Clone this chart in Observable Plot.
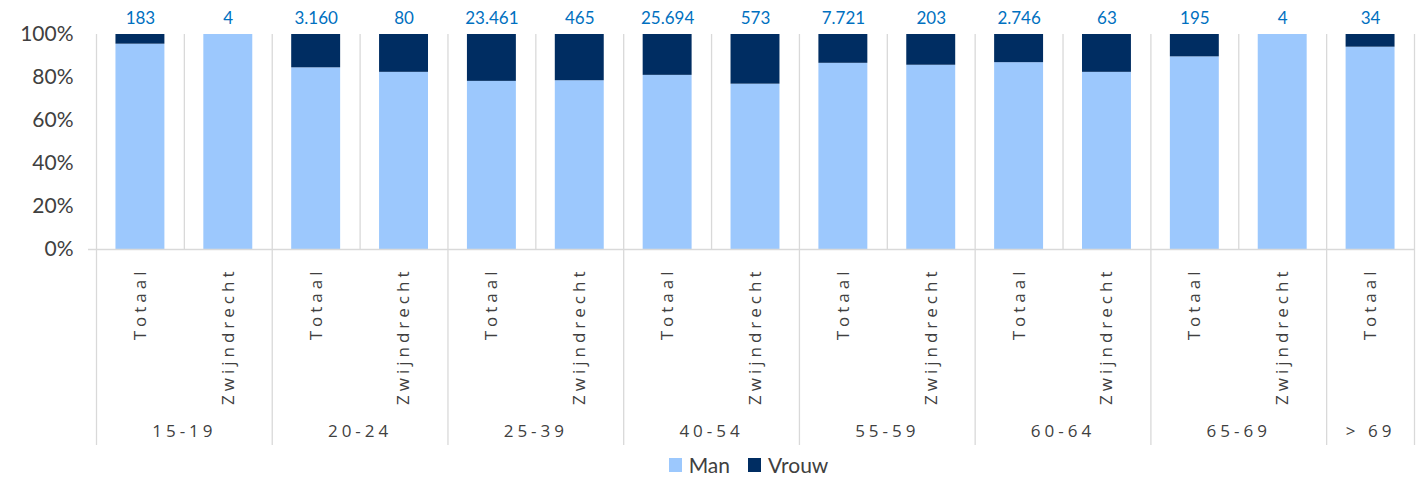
<!DOCTYPE html>
<html>
<head>
<meta charset="utf-8">
<script src="https://cdn.jsdelivr.net/npm/d3@7"></script>
<script src="https://cdn.jsdelivr.net/npm/@observablehq/plot@0.6"></script>
<style>
  html, body { margin: 0; padding: 0; background: #fff; }
  #chart svg { display: block; }
  #legend { width: 1421px; height: 29px; display: flex; justify-content: center; align-items: center;
    padding-left: 76px; box-sizing: border-box; font-family: Lato, "Liberation Sans", sans-serif; font-size: 21px; color: #404040; }
  #legend .item { display: flex; align-items: center; margin: 0 9px; }
  #legend .sw { width: 13px; height: 14px; margin-right: 7px; }
</style>
</head>
<body>
<div id="chart"></div>
<div id="legend"></div>
<script>
// ---- data ----
const groups = ["15-19", "20-24", "25-39", "40-54", "55-59", "60-64", "65-69", "> 69"];
const barGroup = ["15-19", "15-19", "20-24", "20-24", "25-39", "25-39", "40-54", "40-54",
                  "55-59", "55-59", "60-64", "60-64", "65-69", "65-69", "> 69"];
const barArea = ["Totaal", "Zwijndrecht", "Totaal", "Zwijndrecht", "Totaal", "Zwijndrecht",
                 "Totaal", "Zwijndrecht", "Totaal", "Zwijndrecht", "Totaal", "Zwijndrecht",
                 "Totaal", "Zwijndrecht", "Totaal"];
const totals = [183, 4, 3160, 80, 23461, 465, 25694, 573, 7721, 203, 2746, 63, 195, 4, 34];
const manShare = [0.955, 1.0, 0.845, 0.824, 0.782, 0.785, 0.810, 0.769, 0.866, 0.857, 0.869, 0.824, 0.896, 1.0, 0.941];
const series = ["Man", "Vrouw"];
const colors = ["#9CC8FD", "#002D62"];
const yTicks = [0, 0.2, 0.4, 0.6, 0.8, 1];

// ---- derived ----
const keys = barGroup.map((g, i) => g + "|" + barArea[i]);
const rows = [];
keys.forEach((k, i) => {
  rows.push({key: k, sex: "Man", value: manShare[i]});
  rows.push({key: k, sex: "Vrouw", value: 1 - manShare[i]});
});
const bars = keys.map((k, i) => ({key: k, area: barArea[i], group: barGroup[i], total: totals[i]}));
const groupInfo = groups.map(g => {
  const members = keys.filter((k, i) => barGroup[i] === g);
  return {group: g, first: members[0], n: members.length};
});
const nl = d3.formatLocale({decimal: ",", thousands: ".", grouping: [3], currency: ["€", ""]});
const fmt = nl.format(",d");

const W = 1421, H = 450;
const mL = 96, mR = 7, mT = 34, mB = H - 249;
const step = (W - mL - mR) / keys.length;
const pad = 0.443;
const belowLen = 196;
const labelFont = "'Open Sans', sans-serif";

const plot = Plot.plot({
  width: W, height: H,
  marginLeft: mL, marginRight: mR, marginTop: mT, marginBottom: mB,
  style: {fontFamily: "Lato, 'Liberation Sans', sans-serif", background: "#fff"},
  x: {domain: keys, paddingInner: pad, paddingOuter: pad / 2, round: false, axis: null},
  y: {domain: [0, 1], axis: null},
  color: {domain: series, range: colors},
  marks: [
    // vertical gridlines between bars
    Plot.ruleX(keys, {x: d => d, dx: -step / 2, y1: 0, y2: 1, stroke: "#D9D9D9", strokeWidth: 1.3}),
    Plot.ruleX([keys[keys.length - 1]], {x: d => d, dx: step / 2, y1: 0, y2: 1, stroke: "#D9D9D9", strokeWidth: 1.3}),
    // group separators below axis
    Plot.ruleX(groupInfo, {x: "first", dx: -step / 2, y1: 0, y2: 0, insetBottom: -belowLen, stroke: "#D9D9D9", strokeWidth: 1.3}),
    Plot.ruleX([keys[keys.length - 1]], {x: d => d, dx: step / 2, y1: 0, y2: 0, insetBottom: -belowLen, stroke: "#D9D9D9", strokeWidth: 1.3}),
    // stacked bars
    Plot.barY(rows, {x: "key", y: "value", fill: "sex"}),
    // baseline
    Plot.ruleY([0], {insetLeft: -8, stroke: "#D9D9D9", strokeWidth: 1.3}),
    // y axis labels
    Plot.axisY({ticks: yTicks, tickFormat: d3.format(".0%"), tickSize: 0, tickPadding: 23, fontSize: 21, color: "#404040", label: null}),
    // totals above bars
    Plot.text(bars, {x: "key", y: () => 1, text: d => fmt(d.total), dy: -16, lineAnchor: "middle",
      fill: "#0070C0", fontSize: 17}),
    // category labels (rotated)
    Plot.text(bars, {x: "key", y: () => 0, text: "area", rotate: -90, textAnchor: "end", lineAnchor: "middle",
      dy: 18, fill: "#404040", fontSize: 17, fontFamily: labelFont}),
    // group labels
    Plot.text(groupInfo.filter(d => d.n === 2), {x: "first", y: () => 0, text: "group", dx: step / 2, dy: 182,
      lineAnchor: "middle", fill: "#404040", fontSize: 17, fontFamily: labelFont}),
    Plot.text(groupInfo.filter(d => d.n === 1), {x: "first", y: () => 0, text: "group", dy: 182,
      lineAnchor: "middle", fill: "#404040", fontSize: 17, fontFamily: labelFont})
  ]
});
// letter spacing for category/group labels
d3.select(plot).selectAll("g[font-family]").filter(function() {
  return this.getAttribute("font-family").includes("Open Sans");
}).style("letter-spacing", "4px");
document.getElementById("chart").appendChild(plot);

// legend
const leg = document.getElementById("legend");
series.forEach((s, i) => {
  const it = document.createElement("div");
  it.className = "item";
  it.innerHTML = `<span class="sw" style="background:${colors[i]}"></span><span>${s}</span>`;
  leg.appendChild(it);
});
</script>
</body>
</html>
